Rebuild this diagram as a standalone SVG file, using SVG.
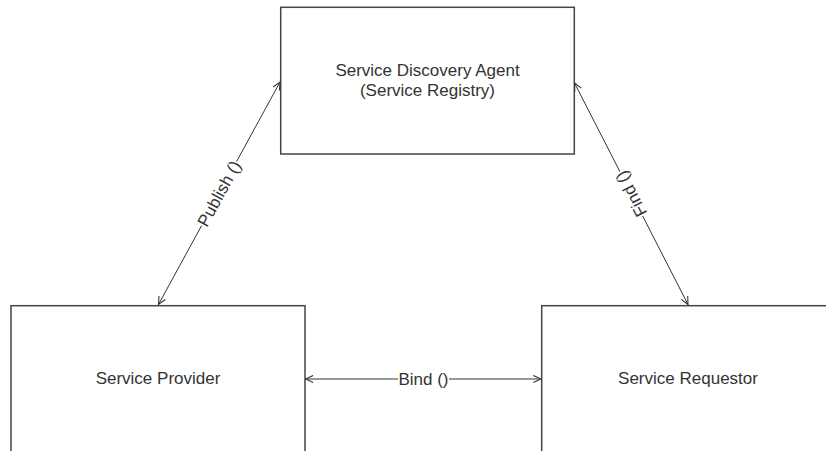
<svg xmlns="http://www.w3.org/2000/svg" width="826" height="451" viewBox="0 0 826 451">
<style>
.box{fill:#fff;stroke:#444;stroke-width:1.5}
.lbl{font-family:"Liberation Sans",Arial,sans-serif;font-size:17px;fill:#333;text-anchor:middle}
.conn{stroke:#333;stroke-width:1;fill:none;marker-start:url(#arr);marker-end:url(#arr)}
.bg{fill:#fff}
</style>
<defs>
<marker id="arr" viewBox="0 0 10 10" refX="9.5" refY="5" markerWidth="9" markerHeight="9" markerUnits="userSpaceOnUse" orient="auto-start-reverse">
<path d="M1,1 L9.5,5 L1,9" fill="none" stroke="#333" stroke-width="1.2"/>
</marker>
</defs>
<rect width="826" height="451" fill="#fff"/>
<g id="agent">
<rect class="box" x="280.7" y="7.3" width="293.6" height="146.7"/>
<text class="lbl" x="427.5" y="76">Service Discovery Agent</text>
<text class="lbl" x="427.5" y="96">(Service Registry)</text>
</g>
<g id="provider">
<rect class="box" x="11" y="305.7" width="294" height="160"/>
<text class="lbl" x="158" y="384">Service Provider</text>
</g>
<g id="requestor">
<rect class="box" x="541.7" y="305.7" width="300" height="160"/>
<text class="lbl" x="688" y="384">Service Requestor</text>
</g>
<g id="connectors">
<line class="conn" x1="158.5" y1="304.5" x2="280" y2="82"/>
<line class="conn" x1="574.5" y1="83" x2="688" y2="304.5"/>
<line class="conn" x1="305.5" y1="379" x2="541" y2="379"/>
<g transform="translate(219,193.5) rotate(-61.3)">
<rect class="bg" x="-36.5" y="-8" width="73" height="16"/>
<text class="lbl" x="0" y="6">Publish ()</text>
</g>
<g transform="translate(631,194) rotate(-117.2)">
<rect class="bg" x="-25" y="-8" width="50" height="16"/>
<text class="lbl" x="0" y="6">Find ()</text>
</g>
<rect class="bg" x="398" y="371" width="51" height="16"/>
<text class="lbl" x="423.5" y="385">Bind ()</text>
</g>
</svg>
